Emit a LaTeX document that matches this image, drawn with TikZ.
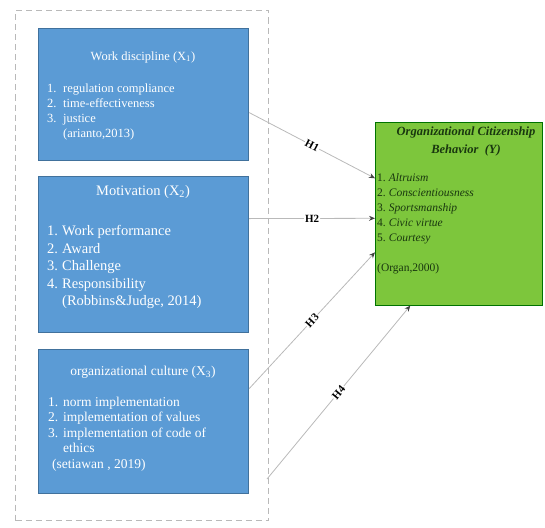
\documentclass[tikz,border=0pt]{standalone}
\usepackage{fontspec}
\setmainfont{Liberation Serif}
\usetikzlibrary{arrows.meta}
\definecolor{boxblue}{RGB}{91,155,213}
\definecolor{boxblueline}{RGB}{65,113,156}
\definecolor{ocbgreen}{RGB}{125,198,60}
\definecolor{ocbtext}{RGB}{25,55,15}

\begin{document}
\begin{tikzpicture}[x=1pt,y=-1pt,>={Stealth[length=6pt,width=5pt,color=black!75]},
  varbox/.style={draw=boxblueline,line width=1.2pt,fill=boxblue,anchor=north west,inner sep=0pt},
  ocbbox/.style={draw=green!45!black,line width=0.6pt,fill=ocbgreen,anchor=north west,inner sep=0pt},
  frame/.style={draw=gray!55,line width=1pt,dash pattern=on 6pt off 4pt,anchor=north west,inner sep=0pt},
  vartext/.style={text=white,inner sep=0pt},
  ocbtxt/.style={text=ocbtext,inner sep=0pt},
  hyp/.style={->,draw=gray!55,line width=0.8pt},
  hyplabel/.style={fill=white,inner sep=1pt,text=black,sloped,font=\bfseries\fontsize{11}{12}\selectfont}]
\useasboundingbox (0,0) rectangle (545,527);
\node[frame,minimum width=253pt,minimum height=510pt] (frame) at (15,10) {};
\node[varbox,minimum width=210pt,minimum height=132pt] (wd) at (38,28) {};
\node[varbox,minimum width=210pt,minimum height=156pt] (mot) at (38,176) {};
\node[varbox,minimum width=210pt,minimum height=144pt] (oc) at (38,349) {};
\node[ocbbox,minimum width=167pt,minimum height=183pt] (ocb) at (375,122) {};

\node[vartext,font=\fontsize{12.5}{15}\selectfont] (wdtitle) at (143,57) {Work discipline (X\textsubscript{1})};
\node[vartext,anchor=north west,font=\fontsize{12.5}{15}\selectfont] (wdlist) at (47,81.5) {%
  \begin{tabular}{@{}p{16pt}@{}l@{}}
  1. & regulation compliance\\
  2. & time-effectiveness\\
  3. & justice\\
     & (arianto,2013)
  \end{tabular}};

\node[vartext,font=\fontsize{14.5}{17.5}\selectfont] (mottitle) at (143,192) {Motivation (X\textsubscript{2})};
\node[vartext,anchor=north west,font=\fontsize{14.5}{17.5}\selectfont] (motlist) at (47,223.5) {%
  \begin{tabular}{@{}p{15pt}@{}l@{}}
  1. & Work performance\\
  2. & Award\\
  3. & Challenge\\
  4. & Responsibility\\
     & (Robbins\&Judge, 2014)
  \end{tabular}};

\node[vartext,font=\fontsize{13.5}{15.5}\selectfont] (octitle) at (143,372) {organizational culture (X\textsubscript{3})};
\node[vartext,anchor=north west,font=\fontsize{13.5}{15.5}\selectfont] (oclist) at (48,395) {%
  \begin{tabular}{@{}p{15pt}@{}l@{}}
  1. & norm implementation\\
  2. & implementation of values\\
  3. & implementation of code of\\
     & ethics\\
  \multicolumn{2}{@{\hspace{4pt}}l@{}}{(setiawan , 2019)}
  \end{tabular}};

\node[ocbtxt,align=center,font=\bfseries\itshape\fontsize{12.5}{18}\selectfont] (ocbtitle) at (466,141) {Organizational Citizenship\\Behavior\ \ (Y)};
\node[ocbtxt,anchor=north west,font=\fontsize{11.5}{15}\selectfont] (ocblist) at (377,171) {%
  \begin{tabular}{@{}l@{\hspace{3pt}}l@{}}
  1. & \textit{Altruism}\\
  2. & \textit{Conscientiousness}\\
  3. & \textit{Sportsmanship}\\
  4. & \textit{Civic virtue}\\
  5. & \textit{Courtesy}\\
  \\
  \multicolumn{2}{@{}l@{}}{(Organ,2000)}
  \end{tabular}};

\coordinate (h4start) at (267,479);
\draw[hyp] ([yshift=-18pt]wd.east) -- ([yshift=35.5pt]ocb.west) node[hyplabel,midway] {H1};
\draw[hyp] ([yshift=36pt]mot.east) -- ([yshift=-4.5pt]ocb.west) node[hyplabel,midway] {H2};
\draw[hyp] ([yshift=33pt]oc.east) -- ([yshift=-38.5pt]ocb.west) node[hyplabel,midway] {H3};
\draw[hyp] (h4start) -- ([xshift=-48.5pt]ocb.south) node[hyplabel,midway] {H4};
\end{tikzpicture}
\end{document}
